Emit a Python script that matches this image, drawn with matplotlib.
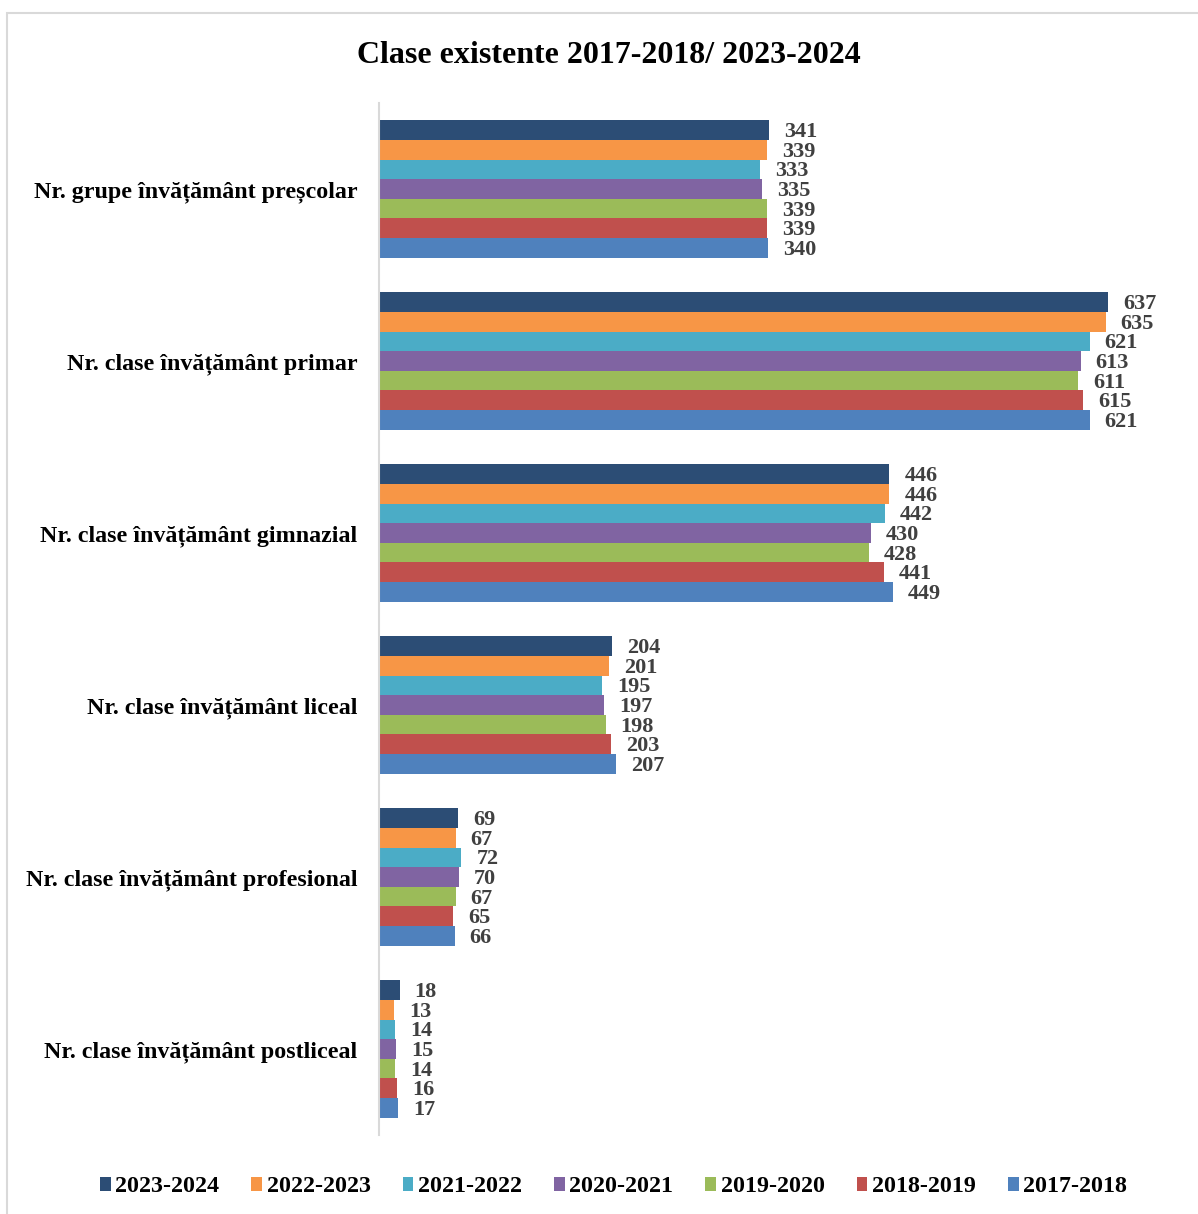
import matplotlib
matplotlib.use('Agg')
import matplotlib.pyplot as plt
from matplotlib.patches import Patch, Rectangle

plt.rcParams.update({
    'font.family': 'Liberation Serif',
    'font.weight': 'bold',
})

categories = [
    'Nr. grupe învățământ preșcolar',
    'Nr. clase învățământ primar',
    'Nr. clase învățământ gimnazial',
    'Nr. clase învățământ liceal',
    'Nr. clase învățământ profesional',
    'Nr. clase învățământ postliceal',
]
years = ['2023-2024', '2022-2023', '2021-2022', '2020-2021',
         '2019-2020', '2018-2019', '2017-2018']
colors = ['#2C4D75', '#F79646', '#4BACC6', '#8064A2',
          '#9BBB59', '#C0504D', '#4F81BD']

v_2023_2024 = [341, 637, 446, 204, 69, 18]
v_2022_2023 = [339, 635, 446, 201, 67, 13]
v_2021_2022 = [333, 621, 442, 195, 72, 14]
v_2020_2021 = [335, 613, 430, 197, 70, 15]
v_2019_2020 = [339, 611, 428, 198, 67, 14]
v_2018_2019 = [339, 615, 441, 203, 65, 16]
v_2017_2018 = [340, 621, 449, 207, 66, 17]
series = [v_2023_2024, v_2022_2023, v_2021_2022, v_2020_2021,
          v_2019_2020, v_2018_2019, v_2017_2018]

W, H = 1198, 1214
fig = plt.figure(figsize=(W / 100, H / 100), dpi=100)

# outer chart frame (light grey, runs off right/bottom edge)
fig.patches.append(Rectangle((7 / W, -0.1), 1.2, 1 - 13 / H + 0.1,
                             transform=fig.transFigure, fill=False,
                             edgecolor='#D9D9D9', linewidth=1.5))

px_per_unit = 1.1444
xmax = 700
ax = fig.add_axes([379 / W, 1 - 1135 / H, xmax * px_per_unit / W, 1032 / H])

h = 19.6 / 172
for j, (vals, c) in enumerate(zip(series, colors)):
    ys = [i + (j - 3) * h for i in range(len(categories))]
    ax.barh(ys, vals, height=h, color=c, label=years[j])
    for y, v in zip(ys, vals):
        ax.annotate(str(v), (v, y), xytext=(15, -2), textcoords='offset pixels',
                    ha='left', va='center', fontsize=16, fontweight='bold',
                    color='#404040')

ax.set_xlim(0, xmax)
ax.set_ylim(len(categories) - 0.5, -0.5)
ax.set_yticks(range(len(categories)))
ax.set_yticklabels(categories, fontsize=17.3, fontweight='bold', color='black')
ax.tick_params(axis='y', length=0, pad=15.5)
ax.set_xticks([])
for s in ['top', 'right', 'bottom']:
    ax.spines[s].set_visible(False)
ax.spines['left'].set_color('#D9D9D9')
ax.spines['left'].set_linewidth(1.5)

fig.text(609 / W, 1 - 63 / H, 'Clase existente 2017-2018/ 2023-2024',
         ha='center', va='baseline', fontsize=23, fontweight='bold')

handles = [Patch(facecolor=c, edgecolor='none') for c in colors]
fig.legend(handles, years, loc='center', bbox_to_anchor=(613.5 / W, 1 - 1187 / H),
           ncol=7, frameon=False, handlelength=0.45, handleheight=0.55,
           handletextpad=0.2, columnspacing=1.32,
           prop={'family': 'Liberation Serif', 'weight': 'bold', 'size': 17.3})

fig.savefig('out.png', dpi=100)
